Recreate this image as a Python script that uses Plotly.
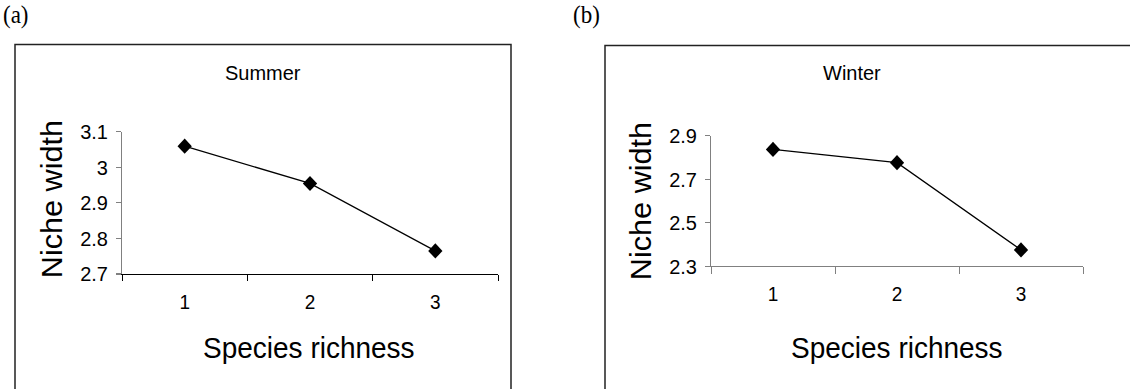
import plotly.graph_objects as go

# Data
categories = ["1", "2", "3"]
summer_niche = [3.06, 2.955, 2.765]
winter_niche = [2.838, 2.777, 2.376]
y_ticks_summer = [2.7, 2.8, 2.9, 3.0, 3.1]
y_ticklabels_summer = ["2.7", "2.8", "2.9", "3", "3.1"]
y_ticks_winter = [2.3, 2.5, 2.7, 2.9]
y_ticklabels_winter = ["2.3", "2.5", "2.7", "2.9"]

W, H = 1130, 389

def px(x):
    return x / W

def py(y):
    return (H - y) / H

fig = go.Figure()

line_style = dict(color="black", width=1.3)
marker_style = dict(symbol="diamond", size=11, color="black")

fig.add_trace(go.Scatter(x=categories, y=summer_niche, mode="lines+markers",
                         line=line_style, marker=marker_style,
                         xaxis="x", yaxis="y", showlegend=False))
fig.add_trace(go.Scatter(x=categories, y=winter_niche, mode="lines+markers",
                         line=line_style, marker=marker_style,
                         xaxis="x2", yaxis="y2", showlegend=False))

ytickfont = dict(family="Liberation Sans, Arial", size=20, color="black")
xtickfont = dict(family="Liberation Sans, Arial", size=19, color="black")

common_x = dict(type="category", tickson="boundaries", ticks="outside", ticklen=6,
                tickwidth=1, showgrid=False, zeroline=False, showline=True,
                linewidth=1, tickfont=xtickfont, ticklabelstandoff=9,
                range=[-0.5, 2.5], fixedrange=True)
common_y = dict(ticks="outside", ticklen=5, tickwidth=1, showgrid=False,
                zeroline=False, showline=True, linewidth=1, linecolor="#808080",
                tickcolor="#808080", tickfont=ytickfont, ticklabelstandoff=4)

fig.update_layout(
    width=W, height=H,
    margin=dict(l=0, r=0, t=0, b=0),
    paper_bgcolor="white", plot_bgcolor="white",
    xaxis=dict(common_x, domain=[px(122), px(498)], anchor="y",
               linecolor="black", tickcolor="black"),
    yaxis=dict(common_y, domain=[py(274.3), py(131.7)], anchor="x",
               range=[2.7, 3.1], tickvals=y_ticks_summer,
               ticktext=y_ticklabels_summer),
    xaxis2=dict(common_x, domain=[px(711), px(1083)], anchor="y2",
                linecolor="#808080", tickcolor="#808080"),
    yaxis2=dict(common_y, domain=[py(266.7), py(135.7)], anchor="x2",
                range=[2.3, 2.9], tickvals=y_ticks_winter,
                ticktext=y_ticklabels_winter),
)

# Panel boxes
fig.add_shape(type="rect", xref="paper", yref="paper",
              x0=px(15), x1=px(511), y0=-0.2, y1=py(44),
              line=dict(color="#222222", width=1.5))
fig.add_shape(type="rect", xref="paper", yref="paper",
              x0=px(605), x1=1.2, y0=-0.2, y1=py(45),
              line=dict(color="#222222", width=1.5))

title_font = dict(family="Liberation Sans, Arial", size=28, color="black")
ytitle_font = dict(family="Liberation Sans, Arial", size=29, color="black")
small_title = dict(family="Liberation Sans, Arial", size=20, color="black")
panel_font = dict(family="Liberation Serif, DejaVu Serif", size=23, color="black")

annotations = [
    dict(text="(a)", x=px(1), y=py(14), xanchor="left", font=panel_font),
    dict(text="(b)", x=px(571), y=py(14), xanchor="left", font=panel_font),
    dict(text="Summer", x=px(263), y=py(72), xanchor="center", font=small_title),
    dict(text="Winter", x=px(852), y=py(72), xanchor="center", font=small_title),
    dict(text="Niche width", x=px(52), y=py(199), xanchor="center", textangle=-90, font=ytitle_font),
    dict(text="Niche width", x=px(641), y=py(201), xanchor="center", textangle=-90, font=ytitle_font),
    dict(text="Species richness", x=px(309), y=py(348), xanchor="center", font=title_font),
    dict(text="Species richness", x=px(897), y=py(348), xanchor="center", font=title_font),
]
for a in annotations:
    fig.add_annotation(xref="paper", yref="paper", showarrow=False,
                       yanchor="middle", **a)

page_fix = (
    "var s=document.createElement('style');"
    "s.textContent='html,body{margin:0;padding:0;overflow:hidden;width:1130px;height:389px;}"
    ".plotly-graph-div{position:fixed;top:0;left:0;transform-origin:0 0;"
    "transform:translateY(-10.9px) scaleY(1.056);}';"
    "document.head.appendChild(s);"
)

fig.write_html("out.html", config={"displayModeBar": False}, post_script=page_fix)
